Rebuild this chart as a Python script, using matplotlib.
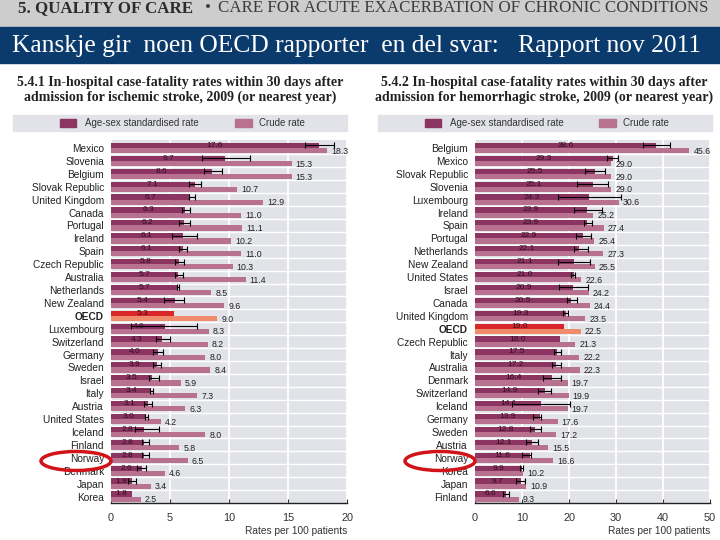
import numpy as np
import matplotlib
matplotlib.use('Agg')
import matplotlib.pyplot as plt
from matplotlib.patches import Rectangle, Ellipse

# 5.4.1 ischemic stroke
isch_countries = ['Mexico', 'Slovenia', 'Belgium', 'Slovak Republic', 'United Kingdom', 'Canada',
                  'Portugal', 'Ireland', 'Spain', 'Czech Republic', 'Australia', 'Netherlands',
                  'New Zealand', 'OECD', 'Luxembourg', 'Switzerland', 'Germany', 'Sweden', 'Israel',
                  'Italy', 'Austria', 'United States', 'Iceland', 'Finland', 'Norway', 'Denmark',
                  'Japan', 'Korea']
isch_std = [17.6, 9.7, 8.6, 7.1, 6.7, 6.3, 6.2, 6.1, 6.1, 5.8, 5.7, 5.7, 5.4, 5.3, 4.6, 4.3, 4.0,
            3.9, 3.5, 3.4, 3.1, 3.0, 2.8, 2.8, 2.8, 2.6, 1.8, 1.8]
isch_crude = [18.3, 15.3, 15.3, 10.7, 12.9, 11.0, 11.1, 10.2, 11.0, 10.3, 11.4, 8.5, 9.6, 9.0, 8.3,
              8.2, 8.0, 8.4, 5.9, 7.3, 6.3, 4.2, 8.0, 5.8, 6.5, 4.6, 3.4, 2.5]
isch_lo = [16.4, 7.7, 7.9, 6.6, 6.6, 6.0, 5.8, 5.2, 5.8, 5.4, 5.4, 5.6, 4.5, None, 1.7, 3.8, 3.6,
           3.6, 3.2, 3.3, 2.8, 2.9, 2.0, 2.6, 2.6, 2.2, 1.4, None]
isch_hi = [18.9, 11.8, 9.4, 7.6, 7.1, 6.7, 6.7, 7.3, 6.4, 6.2, 6.1, 5.8, 6.2, None, 7.3, 5.0, 4.4,
           4.2, 4.1, 3.6, 3.5, 3.1, 4.1, 3.2, 3.2, 3.0, 2.1, None]

# 5.4.2 hemorrhagic stroke
hem_countries = ['Belgium', 'Mexico', 'Slovak Republic', 'Slovenia', 'Luxembourg', 'Ireland', 'Spain',
                 'Portugal', 'Netherlands', 'New Zealand', 'United States', 'Israel', 'Canada',
                 'United Kingdom', 'OECD', 'Czech Republic', 'Italy', 'Australia', 'Denmark',
                 'Switzerland', 'Iceland', 'Germany', 'Sweden', 'Austria', 'Norway', 'Korea',
                 'Japan', 'Finland']
hem_std = [38.6, 29.3, 25.5, 25.1, 24.3, 23.9, 23.9, 22.9, 22.1, 21.1, 21.0, 20.9, 20.5, 19.3, 19.0,
           18.0, 17.5, 17.2, 16.4, 14.9, 14.1, 13.9, 12.8, 12.1, 11.6, 9.9, 9.7, 6.6]
hem_crude = [45.6, 29.0, 29.0, 29.0, 30.6, 25.2, 27.4, 25.4, 27.3, 25.5, 22.6, 24.2, 24.4, 23.5, 22.5,
             21.3, 22.2, 22.3, 19.7, 19.9, 19.7, 17.6, 17.2, 15.5, 16.6, 10.2, 10.9, 9.3]
hem_lo = [35.8, 28.0, 23.3, 21.8, 17.6, 21.0, 23.1, 21.5, 21.0, 17.6, 20.4, 17.9, 19.6, 18.7, None,
          None, 16.9, 16.3, 14.4, 13.5, 7.9, 12.3, 11.7, 10.9, 10.1, 9.6, 8.7, 5.9]
hem_hi = [41.4, 30.4, 27.7, 28.4, 31.1, 27.0, 24.8, 24.6, 24.0, 24.5, 21.3, 24.0, 21.8, 19.8, None,
          None, 18.2, 18.3, 18.3, 16.2, 20.2, 14.0, 14.0, 13.4, 12.0, 10.2, 10.6, 7.3]

DARK = '#8c3563'
CRUDE = '#b8718f'
OECD_DARK = '#d9262a'
OECD_CRUDE = '#ee8c6c'
PANEL = '#e1e3e8'
SANS = 'Liberation Sans'
SERIF = 'Liberation Serif'

fig = plt.figure(figsize=(7.2, 5.4), dpi=100)


def px_axes(x0, y0, x1, y1):
    return fig.add_axes([x0 / 720, 1 - y1 / 540, (x1 - x0) / 720, (y1 - y0) / 540])


def fx(x):
    return x / 720


def fy(y):
    return 1 - y / 540


def draw_chart(x0, x1, countries, std, crude, lo, hi, xmax, step):
    ax = px_axes(x0, 140, x1, 503)
    n = len(countries)
    y = np.arange(n)
    ax.set_facecolor(PANEL)
    ax.set_xlim(0, xmax)
    ax.set_ylim(n - 0.5, -0.62)
    dcols = [OECD_DARK if c == 'OECD' else DARK for c in countries]
    ccols = [OECD_CRUDE if c == 'OECD' else CRUDE for c in countries]
    ax.barh(y - 0.2, std, height=0.4, color=dcols, zorder=3)
    ax.barh(y + 0.2, crude, height=0.4, color=ccols, zorder=3)
    s = np.array(std)
    l = np.array([np.nan if v is None else v for v in lo])
    h = np.array([np.nan if v is None else v for v in hi])
    ax.errorbar(s, y - 0.2, xerr=[s - l, h - s], fmt='none', ecolor='black',
                elinewidth=0.8, capsize=2.2, capthick=0.8, zorder=4)
    unit = xmax / 235.0
    for i in range(n):
        ax.text(std[i] / 2, i - 0.2, f'{std[i]:.1f}', fontsize=6, color='#2e0f20',
                family=SANS, ha='center', va='center', zorder=5)
        ax.text(crude[i] + 4 * unit, i + 0.25, f'{crude[i]:.1f}', fontsize=6.3, color='#222222',
                family=SANS, ha='left', va='center', zorder=5)
    for i in range(n - 1):
        ax.axhline(i + 0.5, color='white', lw=1.0, zorder=2)
    ax.set_xticks(range(0, xmax + 1, step))
    ax.grid(axis='x', color='white', lw=1.3, zorder=1)
    ax.grid(axis='y', visible=False)
    ax.set_yticks(y)
    ax.set_yticklabels(countries, fontsize=7.3, color='#222222', family=SANS)
    for lab in ax.get_yticklabels():
        if lab.get_text() == 'OECD':
            lab.set_fontweight('bold')
    ax.tick_params(axis='y', length=0, pad=5)
    ax.tick_params(axis='x', labelsize=7.8, colors='#333333', length=3, direction='in', pad=7)
    for lab in ax.get_xticklabels():
        lab.set_family(SANS)
    for sp in ['top', 'right', 'left']:
        ax.spines[sp].set_visible(False)
    ax.spines['bottom'].set_color('#222222')
    ax.spines['bottom'].set_linewidth(1.0)
    fig.text(fx(x1), fy(531), 'Rates per 100 patients', fontsize=7.3, color='#333333',
             family=SANS, ha='right', va='center')
    return ax


def legend_strip(x0, x1, sw1, sw2):
    fig.patches.append(Rectangle((fx(x0), fy(131)), fx(x1 - x0), 16 / 540,
                                 transform=fig.transFigure, color=PANEL, zorder=0))
    fig.patches.append(Rectangle((fx(sw1), fy(127)), fx(16), 8 / 540,
                                 transform=fig.transFigure, color=DARK, zorder=1))
    fig.text(fx(sw1 + 25), fy(123), 'Age-sex standardised rate', fontsize=7, color='#333333',
             family=SANS, va='center')
    fig.patches.append(Rectangle((fx(sw2), fy(127)), fx(17), 8 / 540,
                                 transform=fig.transFigure, color=CRUDE, zorder=1))
    fig.text(fx(sw2 + 24), fy(123), 'Crude rate', fontsize=7, color='#333333',
             family=SANS, va='center')


# header
fig.patches.append(Rectangle((0, fy(27)), 1, 27 / 540, transform=fig.transFigure,
                             color='#cdcdcd', zorder=0))
fig.patches.append(Rectangle((0, fy(63)), 1, 36 / 540, transform=fig.transFigure,
                             color='#0b3b6d', zorder=0))
fig.text(fx(18), fy(8.5), '5. QUALITY OF CARE', fontsize=12.2, fontweight='bold',
         family=SERIF, color='#2b2b2b', va='center')
fig.text(fx(208), fy(8.5), '•', fontsize=12.2, family=SERIF, color='#3c3c3c',
         ha='center', va='center')
fig.text(fx(218), fy(8.5), 'CARE FOR ACUTE EXACERBATION OF CHRONIC CONDITIONS', fontsize=12.2,
         family=SERIF, color='#3c3c3c', va='center')
fig.text(fx(12), fy(46), 'Kanskje gir  noen OECD rapporter  en del svar:   Rapport nov 2011',
         fontsize=18.4, family=SERIF, color='white', va='center')

# chart titles
fig.text(fx(180), fy(90), '5.4.1 In-hospital case-fatality rates within 30 days after\n'
         'admission for ischemic stroke, 2009 (or nearest year)', fontsize=10,
         family=SERIF, fontweight='bold', color='#222222', ha='center', va='center',
         linespacing=1.15)
fig.text(fx(544), fy(90), '5.4.2 In-hospital case-fatality rates within 30 days after\n'
         'admission for hemorrhagic stroke, 2009 (or nearest year)', fontsize=10,
         family=SERIF, fontweight='bold', color='#222222', ha='center', va='center',
         linespacing=1.15)

legend_strip(13, 347, 60, 235)
legend_strip(378, 712, 425, 599)

draw_chart(111, 347, isch_countries, isch_std, isch_crude, isch_lo, isch_hi, 20, 5)
draw_chart(475, 710, hem_countries, hem_std, hem_crude, hem_lo, hem_hi, 50, 10)

# red circles around Norway
for cx in (76, 440):
    fig.patches.append(Ellipse((fx(cx), fy(461)), fx(70), 19 / 540, transform=fig.transFigure,
                               fill=False, edgecolor='#d0141a', lw=2.5, zorder=10))

fig.savefig('out.png', dpi=100)
